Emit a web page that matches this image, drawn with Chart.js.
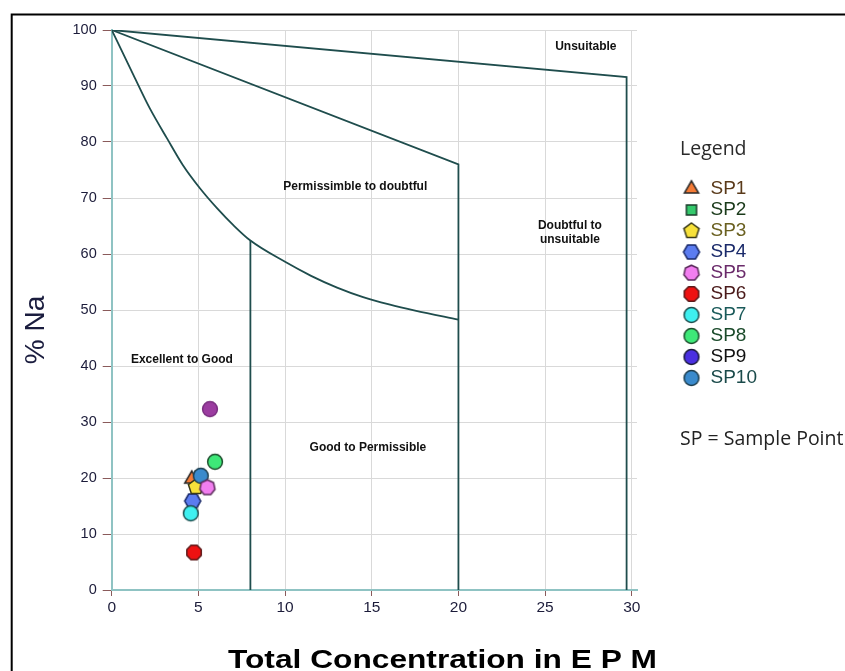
<!DOCTYPE html>
<html>
<head>
<meta charset="utf-8">
<script src="https://cdn.jsdelivr.net/npm/chart.js@4.4.1/dist/chart.umd.min.js"></script>
<style>
html,body{margin:0;padding:0;background:#ffffff;}
#wrap{position:relative;width:845px;height:671px;}
</style>
</head>
<body>
<div id="wrap"><canvas id="c" width="845" height="671"></canvas></div>
<script>
// ---------------- data ----------------
const sampleNames = ['SP1','SP2','SP3','SP4','SP5','SP6','SP7','SP8','SP9','SP10'];
const sampleEPM   = [4.62, 5.10, 4.86, 4.67, 5.52, 4.75, 4.56, 5.96, 5.67, 5.14];
const sampleNa    = [19.8, 20.3, 18.4, 15.9, 18.3, 6.7, 13.7, 22.9, 32.3, 20.4];

const xTickValues = [0, 5, 10, 15, 20, 25, 30];
const yTickValues = [0, 10, 20, 30, 40, 50, 60, 70, 80, 90, 100];

// Wilcox zone boundaries
const upperBoundX  = [0, 29.7, 29.7];
const upperBoundY  = [100, 91.6, 0];
const middleBoundX = [0, 20, 20];
const middleBoundY = [100, 76, 0];
const lowerCurveX  = [0, 1.25, 2.2, 3.2, 4.1, 5.1, 6.1, 7, 8, 10, 11.5, 13, 14.5, 16, 17.5, 20];
const lowerCurveY  = [100, 92, 86, 80.6, 75.9, 71.7, 68.1, 65.2, 62.4, 58.6, 56.1, 54, 52.3, 51, 49.9, 48.3];
const leftBoundX   = [8, 8];
const leftBoundY   = [62.4, 0];

const zoneTexts = [['Unsuitable'], ['Permissimble to doubtful'], ['Doubtful to', 'unsuitable'], ['Excellent to Good'], ['Good to Permissible']];
const zoneTextX = [27.35, 14.05, 26.43, 4.05, 14.78];
const zoneTextY = [97.0, 72.1, 63.8, 41.1, 25.5];

// ---------------- styles ----------------
const markerSides = [3, 4, 5, 6, 7, 8, 0, 0, 0, 0];
const markerRot   = [-Math.PI/2, Math.PI/4, -Math.PI/2, 0, -Math.PI/2, Math.PI/8, 0, 0, 0, 0];
const markerR     = [8.2, 7.2, 8, 8, 7.8, 7.8, 7.4, 7.4, 7.4, 7.4];
const pointFill   = ['#f47b36','#34c96c','#f7e13a','#5b7cf0','#f27ef0','#ee1111','#3ef0f0','#3ee878','#9b3ca0','#3a8acc'];
const legendFill  = ['#f47b36','#34c96c','#f7e13a','#5b7cf0','#f27ef0','#ee1111','#3ef0f0','#3ee878','#4a2fe0','#3a8acc'];
const pointStroke = ['#2a2a2a','#1d3d2d','#3a3a1a','#1a2a6a','#5a2a5a','#5a1a1a','#1d4d4d','#1d4d2d','#7a2f80','#1d3d4d'];
const labelColors = ['#5a3a1a','#1a3a1a','#6a6020','#1a2a6a','#6a2a6a','#4a1a1a','#1a5a5a','#1a4a2a','#111111','#1a4a4a'];
const drawOrder   = [3, 4, 2, 6, 0, 8, 5, 7, 9, 1];
const boundColor  = '#1f4d4d';

function makeMarker(sides, fill, stroke, r, rot) {
  const size = 2 * Math.ceil(r + 2);
  const c = document.createElement('canvas');
  c.width = size; c.height = size;
  const g = c.getContext('2d');
  g.translate(size / 2, size / 2);
  g.beginPath();
  if (sides === 0) {
    g.arc(0, 0, r, 0, Math.PI * 2);
  } else {
    for (let k = 0; k < sides; k++) {
      const a = rot + k * 2 * Math.PI / sides;
      const px = r * Math.cos(a), py = r * Math.sin(a);
      if (k === 0) g.moveTo(px, py); else g.lineTo(px, py);
    }
    g.closePath();
  }
  g.fillStyle = fill; g.fill();
  g.lineWidth = 1.5; g.strokeStyle = stroke; g.stroke();
  return c;
}

const pointMarkers  = sampleNames.map((n, i) => makeMarker(markerSides[i], pointFill[i], pointStroke[i], markerR[i], markerRot[i]));
const legendMarkers = sampleNames.map((n, i) => makeMarker(markerSides[i], legendFill[i], i === 8 ? '#1a1a3a' : pointStroke[i], markerR[i], markerRot[i]));

const toXY = (xs, ys) => xs.map((x, i) => ({x: x, y: ys[i]}));

const datasets = sampleNames.map((name, i) => ({
  label: name,
  data: [{x: sampleEPM[i], y: sampleNa[i]}],
  pointStyle: pointMarkers[i],
  pointRadius: 7.5,
  showLine: false,
  order: drawOrder[i]
}));

function boundary(label, xs, ys, mono) {
  return {
    label: label, data: toXY(xs, ys), showLine: true, pointRadius: 0,
    borderColor: boundColor, borderWidth: 1.8, fill: false, order: 50,
    cubicInterpolationMode: mono ? 'monotone' : 'default'
  };
}
datasets.push(boundary('upper', upperBoundX, upperBoundY, false));
datasets.push(boundary('middle', middleBoundX, middleBoundY, false));
datasets.push(boundary('lower', lowerCurveX, lowerCurveY, true));
datasets.push(boundary('left', leftBoundX, leftBoundY, false));

const ARIAL = "'Liberation Sans', Arial, sans-serif";

const extras = {
  id: 'extras',
  beforeLayout(chart) {
    const lg = chart.legend;
    if (lg && !lg._wfix) {
      const f = lg.fit;
      lg.fit = function () { f.call(this); this.width = 208; };
      lg._wfix = true;
    }
  },
  afterLayout(chart) {
    const lg = chart.legend;
    if (lg) {
      const dx = 680 - lg.left;
      lg.left += dx; lg.right += dx;
      lg.top = 0; lg.bottom = 671;
    }
  },
  beforeDraw(chart) {
    const ctx = chart.ctx;
    ctx.save();
    ctx.strokeStyle = '#000'; ctx.lineWidth = 2;
    ctx.beginPath();
    ctx.moveTo(11.7, 671); ctx.lineTo(11.7, 14.4); ctx.lineTo(845, 14.4);
    ctx.stroke();
    ctx.restore();
  },
  beforeDatasetsDraw(chart) {
    const ctx = chart.ctx, sx = chart.scales.x, sy = chart.scales.y;
    ctx.save();
    ctx.font = 'bold 12px ' + ARIAL;
    ctx.fillStyle = '#111';
    ctx.textAlign = 'center'; ctx.textBaseline = 'middle';
    zoneTexts.forEach((lines, i) => {
      const px = sx.getPixelForValue(zoneTextX[i]);
      const py = sy.getPixelForValue(zoneTextY[i]);
      const n = lines.length;
      lines.forEach((t, j) => ctx.fillText(t, px, py + (j - (n - 1) / 2) * 13.5));
    });
    ctx.restore();
  },
  afterDraw(chart) {
    const ctx = chart.ctx;
    ctx.save();
    // y axis title
    ctx.translate(36, 330);
    ctx.rotate(-Math.PI / 2);
    ctx.font = '28px ' + ARIAL;
    ctx.fillStyle = '#1a1c3e';
    ctx.textAlign = 'center'; ctx.textBaseline = 'middle';
    ctx.fillText('% Na', 0, 0);
    ctx.restore();
    // x axis title
    ctx.save();
    ctx.font = 'bold 25px ' + ARIAL;
    const t = 'Total Concentration in E P M';
    const w = ctx.measureText(t).width;
    ctx.translate(442.5, 661);
    ctx.scale(429 / w, 1);
    ctx.fillStyle = '#000';
    ctx.textAlign = 'center'; ctx.textBaseline = 'middle';
    ctx.fillText(t, 0, 0);
    ctx.restore();
    // note under the legend
    ctx.save();
    ctx.font = "19.5px 'Open Sans', sans-serif";
    ctx.fillStyle = '#222';
    ctx.textAlign = 'left'; ctx.textBaseline = 'middle';
    ctx.fillText('SP = Sample Point', 680, 439);
    ctx.restore();
  }
};

new Chart(document.getElementById('c'), {
  type: 'scatter',
  data: { datasets: datasets },
  plugins: [extras],
  options: {
    responsive: false,
    animation: false,
    layout: { padding: { top: 30, left: 0, right: 0, bottom: 0 } },
    plugins: {
      tooltip: { enabled: false },
      legend: {
        display: true,
        position: 'right',
        align: 'start',
        title: {
          display: true, text: 'Legend', position: 'start', color: '#2a2a2a',
          font: { family: "'Open Sans', sans-serif", size: 19.5 },
          padding: { top: 139.2, bottom: 14.9 }
        },
        labels: {
          usePointStyle: true,
          boxWidth: 21,
          padding: 2,
          font: { family: ARIAL, size: 19 },
          generateLabels: () => sampleNames.map((name, i) => ({
            text: name,
            fillStyle: legendFill[i],
            strokeStyle: pointStroke[i],
            lineWidth: 0,
            pointStyle: legendMarkers[i],
            rotation: 0,
            fontColor: labelColors[i],
            hidden: false,
            datasetIndex: i
          }))
        }
      }
    },
    scales: {
      x: {
        type: 'linear', min: 0, max: 30.3,
        afterBuildTicks: s => { s.ticks = xTickValues.map(v => ({ value: v })); },
        afterFit: s => { s.height = 81; },
        ticks: { color: '#1c1c3a', font: { family: ARIAL, size: 15.5 }, padding: 2, maxRotation: 0, autoSkip: false },
        grid: { color: '#d9d9d9', lineWidth: 1, tickColor: '#8a5a5a', tickLength: 6 },
        border: { color: '#8fc3c3', width: 2 },
        title: { display: false }
      },
      y: {
        type: 'linear', min: 0, max: 100,
        afterBuildTicks: s => { s.ticks = yTickValues.map(v => ({ value: v })); },
        afterFit: s => { s.width = 111.7; },
        ticks: { color: '#1c1c3a', font: { family: ARIAL, size: 14.5 }, padding: 6, autoSkip: false },
        grid: { color: '#d9d9d9', lineWidth: 1, tickColor: '#8a5a5a', tickLength: 9 },
        border: { color: '#8fc3c3', width: 2 },
        title: { display: false }
      }
    }
  }
});
</script>
</body>
</html>
